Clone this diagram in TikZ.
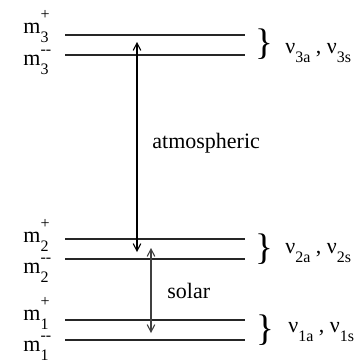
\documentclass[tikz,border=0pt]{standalone}
\usepackage{fontspec}
\setmainfont{Liberation Serif}
\newfontfamily\tms{Liberation Serif}
\usetikzlibrary{arrows.meta}
\newcommand\smallfs{\fontsize{8}{8}\selectfont}
\newcommand\mscript[3]{\makebox[0pt][l]{\raisebox{#1}{\smallfs #2}}\raisebox{-4.5pt}{\smallfs #3}}
\newcommand\nusub[1]{\raisebox{-4.8pt}{\smallfs #1}}
\begin{document}
\begin{tikzpicture}[x=0.5pt,y=-0.5pt,
  level/.style={draw=black!85,line width=0.55pt},
  lab/.style={anchor=base west,inner sep=0pt,font=\tms\fontsize{11}{13}\selectfont},
  bracelab/.style={inner sep=0pt,font=\tms\fontsize{18.5}{20}\selectfont},
  trans/.style={line width=0.55pt,{Straight Barb[length=3.6pt,width=3.8pt]}-{Straight Barb[length=3.6pt,width=3.8pt]}},
]
\useasboundingbox (0,0) rectangle (364,361);
% level lines
\foreach \n/\y in {3p/35,3m/55,2p/239,2m/259,1p/320,1m/340}{
  \coordinate (a\n) at (65,\y);
  \coordinate (b\n) at (245,\y);
}
\draw[level] (a3p) -- (b3p);
\draw[level] (a3m) -- (b3m);
\draw[level] (a2p) -- (b2p);
\draw[level] (a2m) -- (b2m);
\draw[level] (a1p) -- (b1p);
\draw[level] (a1m) -- (b1m);
% mass labels
\node[lab] (m3p) at (23,33) {m\mscript{6.8pt}{+}{3}};
\node[lab] (m3m) at (23,65) {m\mscript{5.2pt}{-{}-}{3}};
\node[lab] (m2p) at (23,242) {m\mscript{6.8pt}{+}{2}};
\node[lab] (m2m) at (23,273) {m\mscript{5.2pt}{-{}-}{2}};
\node[lab] (m1p) at (23,320) {m\mscript{6.8pt}{+}{1}};
\node[lab] (m1m) at (23,351) {m\mscript{5.2pt}{-{}-}{1}};
% braces and neutrino labels
\node[bracelab] (br3) at (264,44) {\}};
\node[bracelab] (br2) at (264,249) {\}};
\node[bracelab] (br1) at (265,330) {\}};
\node[lab] (nu3) at (285,53) {ν\nusub{3a} , ν\nusub{3s}};
\node[lab] (nu2) at (285,253) {ν\nusub{2a} , ν\nusub{2s}};
\node[lab] (nu1) at (288,332) {ν\nusub{1a} , ν\nusub{1s}};
% transitions
\coordinate (atmtop) at (137,42);
\coordinate (atmbot) at (137,252);
\coordinate (soltop) at (151,248);
\coordinate (solbot) at (151,333);
\draw[trans,draw=black] (atmtop) -- (atmbot);
\draw[trans,draw=black!75] (soltop) -- (solbot);
\node[lab] (atm) at (152,148) {atmospheric};
\node[lab] (sol) at (167,298) {solar};
\end{tikzpicture}
\end{document}
